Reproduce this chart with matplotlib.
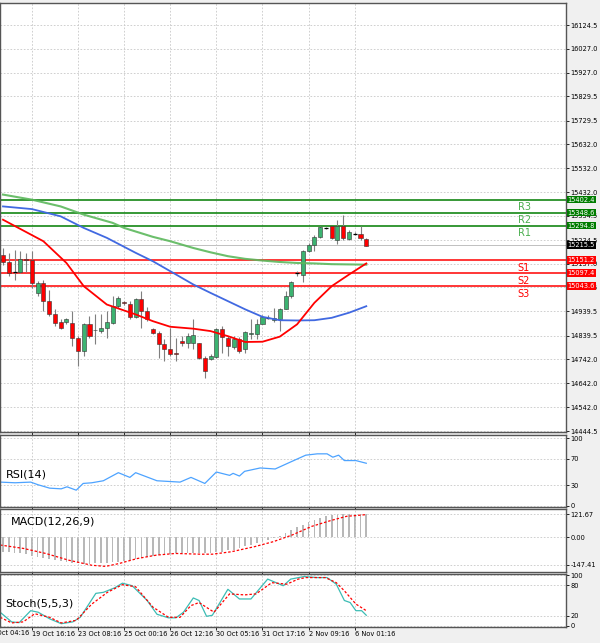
import numpy as np
import matplotlib
matplotlib.use("Agg")
import matplotlib.pyplot as plt
from matplotlib.transforms import blended_transform_factory

# ---- price candles (index 0..63) ----
opens = [15175, 15143, 15102, 15102, 15157, 15154, 15016, 15058, 14982, 14927,
         14895, 14895, 14892, 14830, 14775, 14886, 14861, 14858, 14869, 14892,
         14961, 14979, 14972, 14917, 14989, 14941, 14865, 14851, 14803, 14782,
         14767, 14817, 14810, 14807, 14807, 14748, 14744, 14752, 14865, 14830,
         14793, 14826, 14782, 14847, 14848, 14887, 14912, 14903, 14906, 14948,
         15003, 15098, 15092, 15188, 15216, 15248, 15284, 15292, 15237, 15295,
         15239, 15261, 15261, 15239]
highs = [15202, 15182, 15195, 15188, 15182, 15188, 15065, 15071, 15030, 14948,
         14906, 14913, 14941, 14837, 14890, 14920, 14927, 14927, 14941, 15003,
         15003, 14982, 14982, 14996, 15023, 14959, 14869, 14858, 14824, 14872,
         14830, 14837, 14851, 14906, 14810, 14755, 14762, 14872, 14879, 14837,
         14837, 14835, 14858, 14906, 14906, 14923, 14923, 14954, 14954, 15023,
         15065, 15106, 15195, 15223, 15257, 15292, 15289, 15295, 15319, 15340,
         15278, 15267, 15292, 15243]
lows = [15133, 15085, 15071, 15099, 15102, 15037, 15003, 14941, 14920, 14879,
        14865, 14886, 14796, 14713, 14755, 14830, 14803, 14851, 14830, 14886,
        14954, 14968, 14906, 14913, 14872, 14899, 14848, 14748, 14734, 14755,
        14734, 14796, 14789, 14782, 14741, 14665, 14738, 14748, 14769, 14755,
        14785, 14769, 14769, 14824, 14824, 14886, 14906, 14895, 14858, 14948,
        14996, 15085, 15060, 15184, 15188, 15244, 15281, 15239, 15219, 15237,
        15237, 15257, 15237, 15209]
closes = [15143, 15099, 15104, 15157, 15151, 15055, 15058, 14982, 14927, 14892,
          14872, 14906, 14830, 14775, 14886, 14837, 14864, 14869, 14895, 14961,
          14993, 14976, 14917, 14989, 14941, 14906, 14851, 14803, 14782, 14762,
          14764, 14810, 14837, 14840, 14748, 14693, 14757, 14865, 14835, 14796,
          14826, 14775, 14854, 14850, 14887, 14917, 14914, 14914, 14948, 15003,
          15060, 15100, 15188, 15216, 15248, 15288, 15286, 15244, 15292, 15244,
          15267, 15259, 15244, 15212]

# ---- moving averages (knots read at candle index) ----
ma_red_i = [0, 7, 11, 14, 18, 23, 26, 29, 33, 36, 39, 42, 45, 48, 51, 54, 57, 60, 63]
ma_red = [15319, 15230, 15140, 15044, 14968, 14927, 14899, 14876, 14868, 14858,
          14837, 14813, 14814, 14835, 14886, 14975, 15044, 15092, 15138]
ma_blue_i = [0, 5, 10, 14, 18, 23, 26, 29, 33, 36, 39, 42, 45, 48, 51, 54, 57, 60, 63]
ma_blue = [15374, 15363, 15333, 15285, 15244, 15182, 15147, 15106, 15051, 15016,
           14982, 14948, 14917, 14903, 14902, 14903, 14913, 14934, 14961]
ma_green_i = [0, 5, 10, 14, 19, 21, 26, 29, 33, 36, 39, 42, 45, 48, 51, 54, 57, 63]
ma_green = [15423, 15402, 15374, 15340, 15306, 15285, 15248, 15230, 15202, 15184,
            15168, 15157, 15150, 15144, 15140, 15138, 15135, 15133]

# ---- pivot levels ----
res_names = ["R1", "R2", "R3"]
res_levels = [15294.8, 15348.6, 15402.4]
sup_names = ["S1", "S2", "S3"]
sup_levels = [15151.2, 15097.4, 15043.6]
last_price = 15215.5

price_ticks = [16124.5, 16027.0, 15927.0, 15829.5, 15729.5, 15632.0, 15532.0, 15432.0,
               15334.5, 15234.5, 15137.0, 15039.5, 14939.5, 14839.5, 14742.0, 14642.0,
               14542.0, 14444.5]

# ---- RSI(14) ----
rsi_i = [-0.5, 2.1, 4.8, 6.1, 8.1, 10.1, 11.1, 12.7, 13.9, 15.4, 17.4, 20.0, 22.0, 23.0,
         26.7, 28.7, 30.7, 32.6, 35.0, 37.0, 39.3, 39.9, 41.0, 41.9, 44.6, 47.2, 49.9,
         52.5, 54.5, 56.2, 57.2, 58.2, 59.2, 61.2, 63.0]
rsi = [35, 34, 35, 31, 26, 25, 28, 23, 33, 34, 37, 49, 42, 49, 37, 36, 35, 42, 33, 50,
       45, 48, 44, 51, 56, 54.5, 65, 75, 77, 77, 72, 75, 67, 67, 63]

# ---- MACD(12,26,9) ----
macd_hist = [-77, -79, -81, -83, -90, -97, -104, -110, -116, -122, -127, -132, -137,
             -139, -140, -140, -139, -138, -137, -133, -130, -126, -120, -114, -108,
             -103, -98, -94, -90, -87, -85, -84, -83, -83, -83, -83, -83, -80, -76,
             -70, -65, -56, -47, -40, -32, -23, -14, -4, 7, 24, 40, 54, 67, 80, 94,
             105, 115, 120, 124, 125, 126, 126, 126, 126]
macd_sig_i = [-0.5, 3.5, 7.4, 11.4, 15.4, 17.8, 20.1, 23.3, 26.6, 29.9, 34.3, 36.3,
              39.6, 43.6, 46.9, 50.2, 53.5, 56.9, 59.6, 63.0]
macd_sig = [-41, -59, -86, -122, -149, -155, -140, -113, -95, -86, -90, -90, -77, -50,
            -23, 13, 58, 90, 112, 121]

# ---- Stoch(5,5,3) ----
stk_i = [-0.5, 1.5, 2.8, 4.8, 6.1, 8.1, 10.1, 12.1, 13.4, 16.1, 17.4, 19.4, 20.7, 22.4,
         25.0, 26.7, 28.7, 30.0, 31.3, 33.0, 34.0, 35.3, 36.3, 39.0, 41.0, 43.0, 45.9,
         48.6, 49.9, 52.2, 54.5, 56.2, 57.8, 59.2, 60.2, 61.2, 62.2, 63.0]
stk = [27, 8, 6.5, 30, 27, 14, 4.5, 8, 17, 64, 66, 75, 84, 79, 50, 23, 16, 16, 27, 55,
       50, 19, 21, 72, 53, 53, 92, 79, 92, 97, 95, 95, 82, 50, 46, 30, 30, 21]
std_i = [-0.5, 1.5, 3.5, 5.5, 8.1, 10.1, 12.7, 15.4, 18.1, 20.7, 23.0, 26.0, 28.7, 30.7,
         32.6, 34.0, 36.6, 39.3, 41.9, 43.9, 46.6, 49.2, 51.2, 52.5, 55.9, 57.8, 59.2,
         61.2, 63.0]
std = [17, 6, 8, 24, 17, 6, 11, 43, 66, 81, 77, 37, 17, 17, 40, 46, 27, 63, 61, 63, 85,
       82, 92, 95, 95, 85, 69, 43, 30]

time_tick_i = [-3, 5, 13, 21, 29, 37, 45, 53, 61]
time_labels = ["18 Oct 04:16", "19 Oct 16:16", "23 Oct 08:16", "25 Oct 00:16",
               "26 Oct 12:16", "30 Oct 05:16", "31 Oct 17:16", "2 Nov 09:16",
               "6 Nov 01:16"]

GREEN = "#007c00"
RED = "#ff0000"
XMIN, XMAX = -0.52, 97.6
FS = 4.8


def style(ax, yticks, ylabels, ylim):
    ax.yaxis.tick_right()
    ax.set_yticks(yticks)
    ax.set_yticklabels(ylabels, fontsize=FS)
    ax.tick_params(axis="y", length=2, pad=1.5, width=0.6)
    ax.set_xticks(time_tick_i)
    ax.tick_params(axis="x", length=2, width=0.6)
    ax.set_xticklabels([])
    ax.set_xlim(XMIN, XMAX)
    ax.set_ylim(*ylim)
    ax.grid(True, linestyle=(0, (2, 2)), color="#c8c8c8", linewidth=0.6)
    for s in ax.spines.values():
        s.set_color("#555555")
        s.set_linewidth(1.0)


fig = plt.figure(figsize=(6.0, 6.43), dpi=100)
fig.patch.set_facecolor("#f0f0f0")
ax_p = fig.add_axes([0.0, 0.328, 0.943, 0.667])
ax_r = fig.add_axes([0.0, 0.2115, 0.943, 0.112])
ax_m = fig.add_axes([0.0, 0.1104, 0.943, 0.098])
ax_s = fig.add_axes([0.0, 0.0249, 0.943, 0.0824])

# main price panel
style(ax_p, price_ticks, [f"{v:.1f}" for v in price_ticks], (14440, 16215))
idx = np.arange(len(opens))
for i in idx:
    o, h, l, c = opens[i], highs[i], lows[i], closes[i]
    up = c >= o
    ax_p.vlines(i, l, h, color="#7f7f7f", linewidth=0.8, zorder=3)
    body = abs(c - o)
    if body < 3:
        ax_p.hlines(c, i - 0.35, i + 0.35, color="black", linewidth=0.9, zorder=4)
    else:
        ax_p.bar(i, body, bottom=min(o, c), width=0.7,
                 color="#3cb371" if up else "#ff0000", edgecolor="#333333",
                 linewidth=0.4, zorder=4)

ax_p.plot(ma_green_i, ma_green, color="#5cb85c", linewidth=1.5, alpha=0.9, zorder=5)
ax_p.plot(ma_blue_i, ma_blue, color="#4169e1", linewidth=1.3, zorder=5)
ax_p.plot(ma_red_i, ma_red, color="#ff0000", linewidth=1.3, zorder=5)

tr = blended_transform_factory(ax_p.transAxes, ax_p.transData)
for name, lv in zip(res_names, res_levels):
    ax_p.axhline(lv, color=GREEN, linewidth=1.1, zorder=2)
    ax_p.text(0.915, lv - 30, name, transform=tr, color="#4caf50", fontsize=7, ha="left", va="center")
    ax_p.text(1.003, lv, f"{lv:.1f}", transform=tr, fontsize=FS, color="white", ha="left",
              va="center", bbox=dict(boxstyle="square,pad=0.12", fc=GREEN, ec="none"), zorder=10)
for name, lv in zip(sup_names, sup_levels):
    ax_p.axhline(lv, color=RED, linewidth=1.1, zorder=2)
    ax_p.text(0.915, lv - 30, name, transform=tr, color=RED, fontsize=7, ha="left", va="center")
    ax_p.text(1.003, lv, f"{lv:.1f}", transform=tr, fontsize=FS, color="white", ha="left",
              va="center", bbox=dict(boxstyle="square,pad=0.12", fc=RED, ec="none"), zorder=10)
ax_p.axhline(last_price, color="#c0c0c0", linewidth=0.7, zorder=1)
ax_p.text(1.003, last_price, f"{last_price:.1f}", transform=tr, fontsize=FS, color="white",
          ha="left", va="center", bbox=dict(boxstyle="square,pad=0.12", fc="black", ec="none"),
          zorder=10)

# RSI
style(ax_r, [100, 70, 30, 0], ["100", "70", "30", "0"], (-2, 105))
ax_r.plot(rsi_i, rsi, color="#4da3ff", linewidth=0.9)
ax_r.text(0.01, 0.45, "RSI(14)", transform=ax_r.transAxes, fontsize=8, va="center")

# MACD
style(ax_m, [121.67, 0, -147.41], ["121.67", "0.00", "-147.41"], (-185, 151))
ax_m.bar(idx, macd_hist, width=0.3, color="#b8b8b8")
ax_m.plot(macd_sig_i, macd_sig, color=RED, linestyle=(0, (2, 1.5)), linewidth=0.9)
ax_m.text(0.02, 0.8, "MACD(12,26,9)", transform=ax_m.transAxes, fontsize=8, va="center")

# Stochastic
style(ax_s, [100, 80, 20, 0], ["100", "80", "20", "0"], (-2, 102))
ax_s.plot(stk_i, stk, color="#3cbcb4", linewidth=0.9)
ax_s.plot(std_i, std, color=RED, linestyle=(0, (2, 1.5)), linewidth=0.9)
ax_s.text(0.01, 0.45, "Stoch(5,5,3)", transform=ax_s.transAxes, fontsize=8, va="center")
ax_s.set_xticks(time_tick_i[1:])
ax_s.set_xticklabels(time_labels[1:], fontsize=FS, ha="left")
ax_s.set_xlim(XMIN, XMAX)
ax_s.tick_params(axis="x", pad=1)
# first label starts left of the visible area and is cut by the image edge
trx = blended_transform_factory(ax_s.transData, ax_s.transAxes)
ax_s.text(time_tick_i[0], -0.06, time_labels[0], transform=trx, fontsize=FS,
          ha="left", va="top", clip_on=False)

fig.savefig("out.png", dpi=100, facecolor=fig.get_facecolor())
